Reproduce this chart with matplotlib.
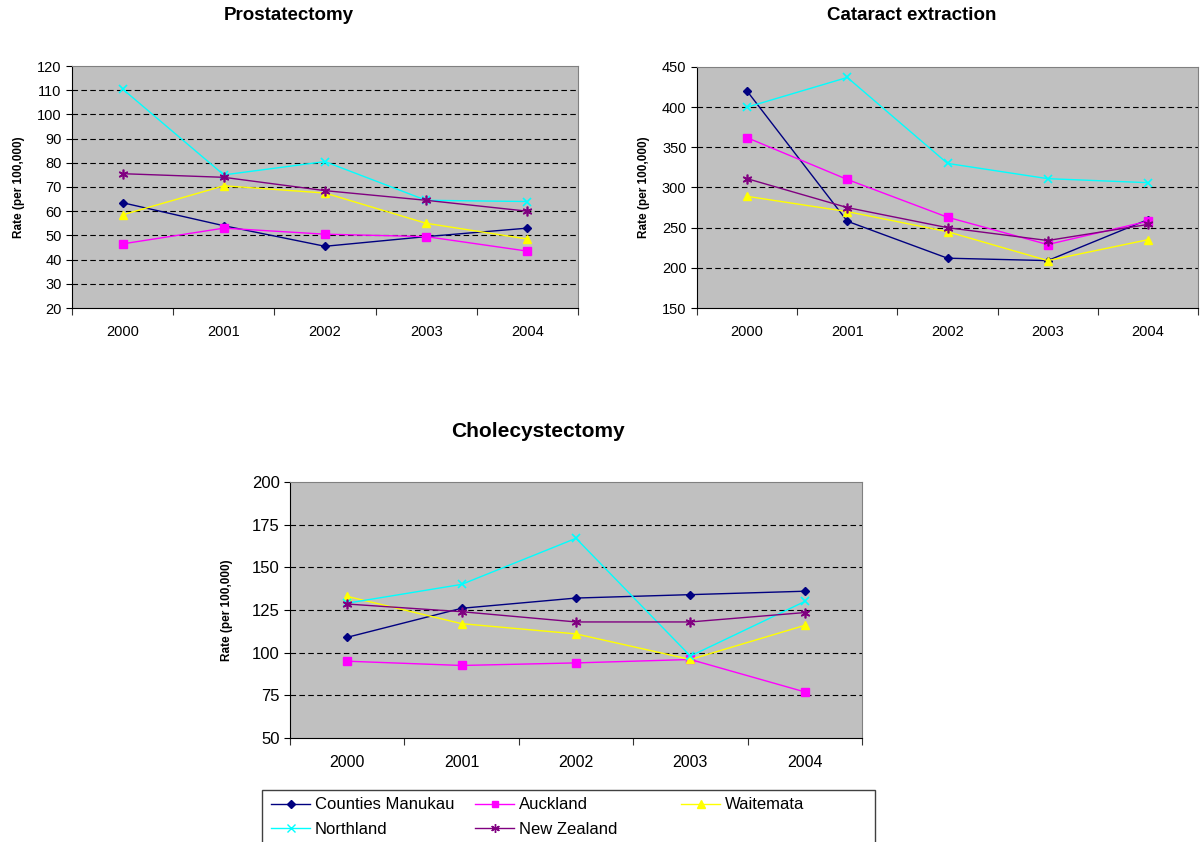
import matplotlib.pyplot as plt
from matplotlib.lines import Line2D
from matplotlib.patches import Rectangle

plt.rcParams['font.family'] = ['Liberation Sans', 'DejaVu Sans']

years = ['2000', '2001', '2002', '2003', '2004']
series_names = ['Counties Manukau', 'Auckland', 'Waitemata', 'Northland', 'New Zealand']

# Prostatectomy rates
pro_cm = [63.5, 54, 45.5, 49.5, 53]
pro_akl = [46.5, 53, 50.5, 49.5, 43.5]
pro_wtm = [58.5, 70.5, 67.5, 55, 48.5]
pro_nth = [110.5, 75, 80.5, 64.5, 64]
pro_nz = [75.5, 74, 68.5, 64.5, 60]

# Cataract extraction rates
cat_cm = [420, 258, 212, 209, 260]
cat_akl = [362, 310, 263, 229, 258]
cat_wtm = [289, 270, 245, 209, 235]
cat_nth = [400, 437, 330, 311, 306]
cat_nz = [311, 275, 250, 234, 254]

# Cholecystectomy rates
cho_cm = [109, 126, 132, 134, 136]
cho_akl = [95, 92.5, 94, 96, 77]
cho_wtm = [133, 117, 111, 96, 116]
cho_nth = [129, 140, 167, 98, 130]
cho_nz = [128.5, 124, 118, 118, 123.5]

colors = ['#000080', '#FF00FF', '#FFFF00', '#00FFFF', '#800080']
markers = ['D', 's', '^', 'x', (6, 2, 0)]
msizes = [4.5, 5.5, 6, 6, 7]

W, H = 1204, 842
fig = plt.figure(figsize=(W / 100, H / 100), dpi=100)


def px_axes(l, t, r, b):
    return fig.add_axes([l / W, 1 - b / H, (r - l) / W, (b - t) / H])


def draw(ax, data, ylim, step, xsize, ysize, xpad, ylab_x):
    ax.set_facecolor('#C0C0C0')
    x = range(1, len(years) + 1)
    for vals, c, m, ms in zip(data, colors, markers, msizes):
        mew = 1.2 if m in ('x', (6, 2, 0)) else 1
        ax.plot(x, vals, color=c, marker=m, markersize=ms, lw=1, mew=mew, zorder=3)
    ax.set_xlim(0.5, len(years) + 0.5)
    ax.set_ylim(*ylim)
    yt = list(range(ylim[0], ylim[1] + 1, step))
    ax.set_yticks(yt)
    for v in yt[1:-1]:
        ax.axhline(v, color='black', lw=0.8, ls=(0, (5, 3)), zorder=1)
    ax.set_xticks([i + 0.5 for i in range(len(years) + 1)])
    ax.set_xticklabels([])
    ax.set_xticks(list(x), minor=True)
    ax.set_xticklabels(years, minor=True, fontsize=xsize)
    ax.tick_params(axis='x', which='major', direction='out', length=5, color='#333333')
    ax.tick_params(axis='x', which='minor', length=0, pad=xpad)
    ax.tick_params(axis='y', direction='out', length=4, labelsize=ysize)
    for s in ['top', 'right']:
        ax.spines[s].set_color('#808080')
    for s in ['left', 'bottom']:
        ax.spines[s].set_color('black')
    ax.set_ylabel('Rate (per 100,000)', fontsize=8.5, fontweight='bold')
    ax.yaxis.set_label_coords(ylab_x, 0.5)


ax1 = px_axes(72, 66, 578, 308)
draw(ax1, [pro_cm, pro_akl, pro_wtm, pro_nth, pro_nz], (20, 120), 10, 10.5, 10.5, 12,
     (25 - 72) / (578 - 72))
fig.text(289 / W, 1 - 16 / H, 'Prostatectomy', fontsize=13.5, fontweight='bold',
         ha='center', va='center')

ax2 = px_axes(697, 67, 1198, 308)
draw(ax2, [cat_cm, cat_akl, cat_wtm, cat_nth, cat_nz], (150, 450), 50, 10.5, 10.5, 12,
     (650 - 697) / (1198 - 697))
fig.text(912 / W, 1 - 16 / H, 'Cataract extraction', fontsize=13.5, fontweight='bold',
         ha='center', va='center')

ax3 = px_axes(290, 482, 862, 738)
draw(ax3, [cho_cm, cho_akl, cho_wtm, cho_nth, cho_nz], (50, 200), 25, 11.5, 12, 12,
     (233 - 290) / (862 - 290))
fig.text(538 / W, 1 - 431 / H, 'Cholecystectomy', fontsize=15, fontweight='bold',
         ha='center', va='center')

# legend frame
fig.patches.append(Rectangle((262 / W, 1 - 850 / H), (875 - 262) / W, 60 / H,
                             transform=fig.transFigure, facecolor='white',
                             edgecolor='#404040', lw=1, zorder=0))

handles = [Line2D([], [], color=c, marker=m, markersize=ms * 0.9, lw=1)
           for c, m, ms in zip(colors, markers, msizes)]
cols = [([0, 3], 258), ([1, 4], 462), ([2], 668)]
for idx, xl in cols:
    fig.legend([handles[i] for i in idx], [series_names[i] for i in idx],
               loc='upper left', bbox_to_anchor=(xl / W, 1 - 784 / H),
               frameon=False, fontsize=12, handlelength=2.3, handletextpad=0.3,
               labelspacing=0.55, borderpad=0.3)

plt.savefig('out.png', dpi=100)
